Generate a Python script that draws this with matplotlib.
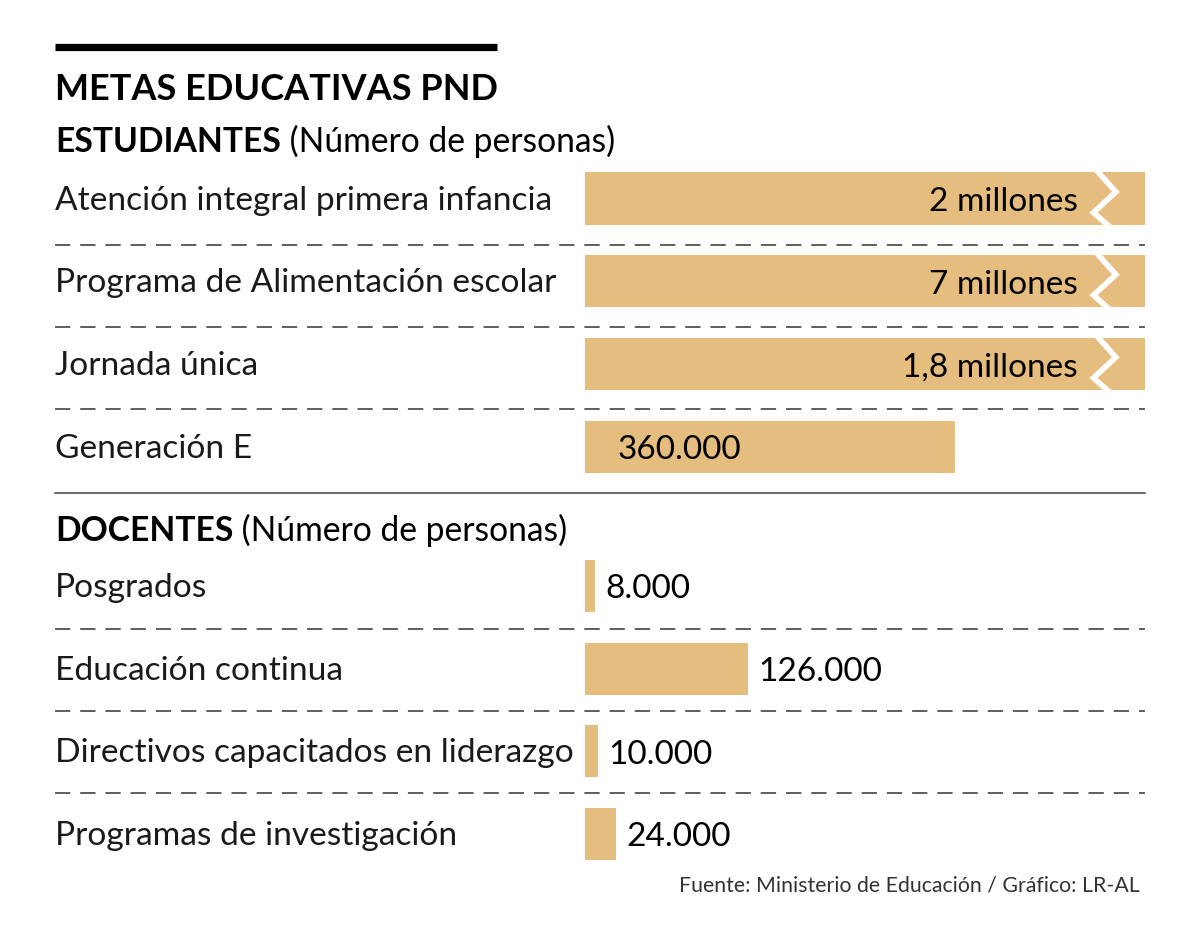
import matplotlib.pyplot as plt
from matplotlib.transforms import blended_transform_factory

plt.rcParams['font.family'] = ['Lato', 'DejaVu Sans']

# data
title = 'METAS EDUCATIVAS PND'
est_labels = ['Atención integral primera infancia', 'Programa de Alimentación escolar',
              'Jornada única', 'Generación E']
est_values = [2000000, 7000000, 1800000, 360000]
est_text = ['2 millones', '7 millones', '1,8 millones', '360.000']

doc_labels = ['Posgrados', 'Educación continua', 'Directivos capacitados en liderazgo',
              'Programas de investigación']
doc_values = [8000, 126000, 10000, 24000]
doc_text = ['8.000', '126.000', '10.000', '24.000']

source = 'Fuente: Ministerio de Educación / Gráfico: LR-AL'

bar_color = '#E5BD7E'
W, H = 1200, 942

fig = plt.figure(figsize=(W / 100, H / 100), dpi=100)

# overlay axes in pixel units for headings, labels and rules
ov = fig.add_axes([0, 0, 1, 1])
ov.set_xlim(0, W)
ov.set_ylim(H, 0)
ov.axis('off')

ov.plot([55, 497], [46.5, 46.5], color='black', lw=5.2, solid_capstyle='butt')
ov.text(55, 90, title, fontsize=26, fontweight='bold', va='center', ha='left')

def heading(y, bold, rest):
    t = ov.text(55, y, bold, fontsize=24.2, fontweight='bold', va='center', ha='left')
    ov.annotate(' ' + rest, xycoords=t, xy=(1, 0), va='bottom', ha='left',
                fontsize=24.2, fontweight='normal')

heading(142, 'ESTUDIANTES', '(Número de personas)')
heading(531, 'DOCENTES', '(Número de personas)')

row_h = 82.7
est_y0, doc_y0 = 198.5, 586.0
lab_kw = dict(fontsize=24.1, fontweight='normal', va='center', color='#1a1a1a')
for i, lab in enumerate(est_labels):
    ov.text(55, est_y0 + i * row_h + 2, lab, **lab_kw)
for i, lab in enumerate(doc_labels):
    ov.text(55, doc_y0 + i * row_h + 2, lab, **lab_kw)

dash = dict(color='#333333', lw=1.1, linestyle=(0, (10, 6.5)))
for y in [245, 327, 409, 629, 711, 793]:
    ov.plot([55, 1145], [y, y], **dash)
ov.plot([55, 1145], [493, 493], color='#444444', lw=1.1)

ov.text(1140, 886, source, fontsize=15.3, fontweight='normal', ha='right', va='center',
        color='#333333')

# bar axes
def bar_axes(top_px, xmax):
    ax = fig.add_axes([585 / W, 1 - (top_px + 4 * row_h) / H, 560 / W, 4 * row_h / H])
    ax.set_xlim(0, xmax)
    ax.set_ylim(3.5, -0.5)
    ax.axis('off')
    ax.patch.set_alpha(0)
    return ax

val_kw = dict(va='center', fontsize=24, color='black')

ax1 = bar_axes(est_y0 - row_h / 2, 545000)
ax1.barh(range(len(est_values)), est_values, height=0.63, color=bar_color)
tr = blended_transform_factory(ax1.transAxes, ax1.transData)
for i, (v, s) in enumerate(zip(est_values, est_text)):
    if v > ax1.get_xlim()[1]:
        ax1.text(0.88, i + 0.04, s, transform=tr, ha='right', **val_kw)
        # break marker
        fx = [0.915, 0.948, 0.908, 0.935]
        fy = [i - 0.33, i - 0.08, i + 0.17, i + 0.33]
        ax1.plot(fx, fy, transform=tr, color='white', lw=4, solid_joinstyle='miter',
                 clip_on=False)
    else:
        ax1.text(0.059, i + 0.04, s, transform=tr, ha='left', **val_kw)

ax2 = bar_axes(doc_y0 - row_h / 2, 433000)
ax2.barh(range(len(doc_values)), doc_values, height=0.63, color=bar_color)
for i, (v, s) in enumerate(zip(doc_values, doc_text)):
    ax2.annotate(s, xy=(v, i + 0.04), xytext=(7.5, 0), textcoords='offset points',
                 ha='left', **val_kw)

fig.savefig('out.png', dpi=100, facecolor='white')
